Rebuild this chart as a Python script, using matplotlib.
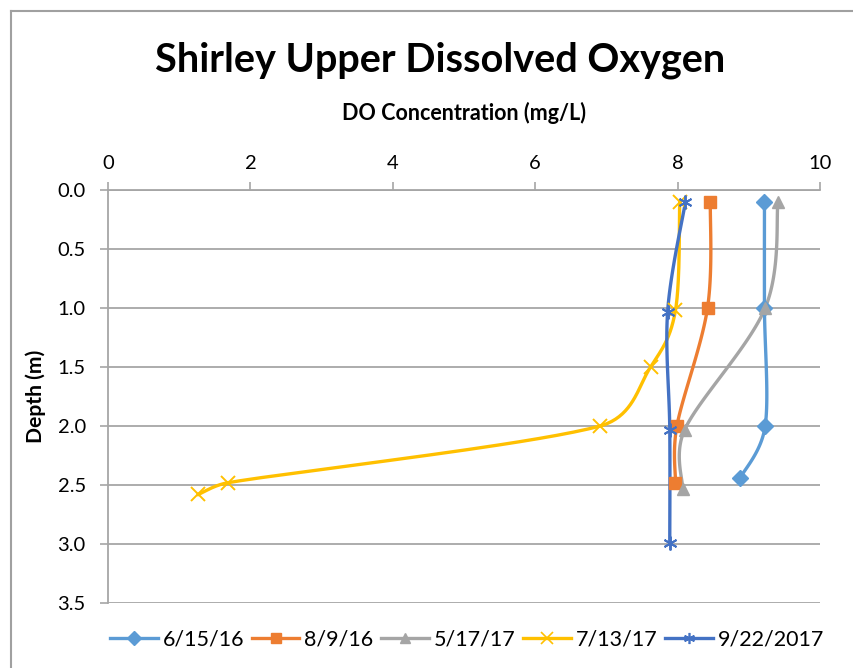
import numpy as np
import matplotlib.pyplot as plt
from matplotlib.lines import Line2D

plt.rcParams['font.family'] = ['Lato', 'DejaVu Sans']

labels = ['6/15/16', '8/9/16', '5/17/17', '7/13/17', '9/22/2017']
colors = ['#5B9BD5', '#ED7D31', '#A5A5A5', '#FFC000', '#4472C4']
markers = ['D', 's', '^', 'x', (6, 2, 0)]

do_0615 = [9.22, 9.22, 9.23, 8.88]
depth_0615 = [0.1, 1.0, 2.0, 2.44]
do_0809 = [8.46, 8.42, 7.99, 7.97]
depth_0809 = [0.1, 1.0, 2.0, 2.48]
do_0517 = [9.41, 9.23, 8.10, 8.07]
depth_0517 = [0.1, 1.0, 2.03, 2.53]
do_0713 = [8.03, 7.97, 7.62, 6.91, 1.69, 1.27]
depth_0713 = [0.1, 1.02, 1.5, 2.0, 2.48, 2.58]
do_0922 = [8.11, 7.86, 7.89, 7.89]
depth_0922 = [0.1, 1.03, 2.03, 2.99]

series = [(do_0615, depth_0615), (do_0809, depth_0809), (do_0517, depth_0517),
          (do_0713, depth_0713), (do_0922, depth_0922)]


def smooth(xs, ys, sx=71.2, sy=118.0, n=40):
    # Excel-like smoothed line: bezier with tangents limited by segment length
    p = np.column_stack([np.asarray(xs) * sx, np.asarray(ys) * sy])
    out = [p[0]]
    for i in range(len(p) - 1):
        p0 = p[i - 1] if i > 0 else p[i]
        p1, p2 = p[i], p[i + 1]
        p3 = p[i + 2] if i + 2 < len(p) else p[i + 1]
        seg_len = np.hypot(*(p2 - p1))
        d1 = (p2 - p0) / 6
        d2 = (p3 - p1) / 6
        lim = seg_len * 0.45
        if np.hypot(*d1) > lim:
            d1 = d1 / np.hypot(*d1) * lim
        if np.hypot(*d2) > lim:
            d2 = d2 / np.hypot(*d2) * lim
        c1 = p1 + d1
        c2 = p2 - d2
        t = np.linspace(0, 1, n)[1:, None]
        seg = ((1 - t) ** 3 * p1 + 3 * (1 - t) ** 2 * t * c1
               + 3 * (1 - t) * t ** 2 * c2 + t ** 3 * p2)
        out.extend(seg)
    out = np.array(out)
    return out[:, 0] / sx, out[:, 1] / sy


fig = plt.figure(figsize=(8.54, 6.68), dpi=100)
ax = fig.add_axes([108 / 854, 1 - 603 / 668, 712 / 854, 413 / 668])

handles = []
for (x, y), lab, c, m in zip(series, labels, colors, markers):
    thin = m in ('x',) or isinstance(m, tuple)
    sxs, sys_ = smooth(x, y)
    ax.plot(sxs, sys_, color=c, lw=2.4, zorder=3)
    ax.plot(x, y, linestyle='none', marker=m, color=c, markersize=10 if thin else 8,
            markeredgewidth=1.4 if thin else 1, zorder=4)
    handles.append(Line2D([], [], color=c, lw=2.4, marker=m,
                          markersize=8 if thin else 7,
                          markeredgewidth=1.2 if thin else 1, label=lab))

ax.set_xlim(0, 10)
ax.set_ylim(3.5, 0)
ax.set_xticks(np.arange(0, 11, 2))
ax.set_yticks(np.arange(0, 3.6, 0.5))
ax.set_yticklabels([f'{v:.1f}' for v in np.arange(0, 3.6, 0.5)])
ax.xaxis.tick_top()
ax.xaxis.set_label_position('top')
ax.tick_params(axis='both', labelsize=14.5, color='#A6A6A6', length=6, width=1.2,
               labelcolor='black')
ax.tick_params(axis='x', pad=7)
ax.tick_params(axis='y', pad=10)
ax.grid(axis='y', color='#A6A6A6', lw=1.3)
ax.set_axisbelow(True)
for s in ['right', 'bottom']:
    ax.spines[s].set_visible(False)
for s in ['left', 'top']:
    ax.spines[s].set_color('#A6A6A6')
    ax.spines[s].set_linewidth(1.3)

ax.set_xlabel('DO Concentration (mg/L)', fontsize=15.5, fontweight='bold', labelpad=25)
ax.set_ylabel('Depth (m)', fontsize=15.2, fontweight='bold', labelpad=8)
fig.text(0.515, 1 - 60 / 668, 'Shirley Upper Dissolved Oxygen', ha='center', va='center',
         fontsize=28.5, fontweight='bold')

fig.legend(handles=handles, loc='center', bbox_to_anchor=(0.547, 1 - 640 / 668), ncol=5,
           frameon=False, fontsize=15.5, handlelength=2.2, columnspacing=0.37,
           handletextpad=0.23)

# chart border (only top and left visible in the crop)
fig.add_artist(Line2D([11 / 854, 11 / 854], [0, 1 - 11 / 668], color='#A0A0A0', lw=1.5,
                      transform=fig.transFigure))
fig.add_artist(Line2D([11 / 854, 1], [1 - 11 / 668, 1 - 11 / 668], color='#A0A0A0', lw=1.5,
                      transform=fig.transFigure))
fig.savefig('out.png', dpi=100)
